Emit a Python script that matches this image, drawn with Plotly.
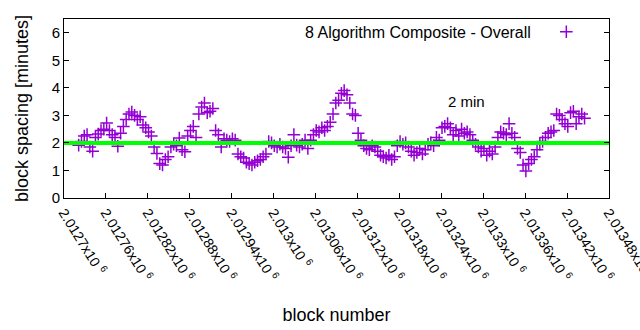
import plotly.graph_objects as go

# ---- data ----
first_block = 2012721
block_step = 4
spacing_minutes = [
    1.92, 2.05, 2.25, 2.30, 1.85, 1.70, 2.20, 2.32, 2.45, 2.50,
    2.72, 2.45, 2.30, 2.20, 1.88, 2.35, 2.60, 2.85, 3.05, 3.12,
    3.00, 2.85, 2.95, 2.65, 2.55, 2.40, 2.25, 1.85, 1.62, 1.25,
    1.20, 1.40, 1.50, 1.85, 1.95, 1.90, 2.18, 1.75, 1.68, 2.25,
    2.45, 2.60, 2.20, 3.05, 3.30, 3.45, 3.10, 3.15, 3.25, 2.45,
    2.30, 1.85, 2.15, 2.10, 2.05, 2.15, 2.10, 1.60, 1.50, 1.45,
    1.30, 1.25, 1.20, 1.30, 1.35, 1.40, 1.50, 1.60, 2.05, 2.00,
    1.90, 1.85, 1.95, 1.85, 1.80, 1.48, 1.90, 2.30, 1.92, 1.85,
    1.95, 2.10, 1.80, 2.10, 2.30, 2.45, 2.40, 2.55, 2.45, 2.60,
    2.75, 3.05, 3.45, 3.55, 3.80, 3.90, 3.75, 3.45, 3.05, 3.00,
    2.35, 2.10, 1.90, 1.80, 1.75, 1.90, 1.85, 1.70, 1.55, 1.50,
    1.45, 1.55, 1.40, 1.50, 1.90, 2.05, 1.95, 2.00, 1.85, 1.70,
    1.55, 1.65, 1.80, 1.60, 1.75, 1.95, 2.00, 1.90, 2.20, 2.10,
    2.55, 2.60, 2.70, 2.55, 2.30, 2.45, 2.25, 2.50, 2.35, 2.40,
    2.30, 2.10, 1.95, 1.85, 1.70, 1.80, 1.55, 1.70, 1.60, 1.85,
    2.20, 2.40, 2.35, 2.30, 2.70, 2.35, 2.20, 1.80, 1.65, 1.20,
    0.98, 1.25, 1.40, 1.50, 1.75, 1.95, 2.05, 2.20, 2.35, 2.40,
    2.45, 3.05, 3.00, 2.85, 2.70, 2.60, 3.10, 3.15, 2.70, 2.95,
    3.05, 2.90,
]
blocks = [first_block + block_step * i for i in range(len(spacing_minutes))]

target_x = [2012700, 2013480]
target_y = [2, 2]

x_tick_vals = [2012700, 2012760, 2012820, 2012880, 2012940, 2013000, 2013060,
               2013120, 2013180, 2013240, 2013300, 2013360, 2013420, 2013480]
x_tick_text = ["2.0127x10 <sup>6</sup>", "2.01276x10 <sup>6</sup>", "2.01282x10 <sup>6</sup>",
               "2.01288x10 <sup>6</sup>", "2.01294x10 <sup>6</sup>", "2.013x10 <sup>6</sup>",
               "2.01306x10 <sup>6</sup>", "2.01312x10 <sup>6</sup>", "2.01318x10 <sup>6</sup>",
               "2.01324x10 <sup>6</sup>", "2.0133x10 <sup>6</sup>", "2.01336x10 <sup>6</sup>",
               "2.01342x10 <sup>6</sup>", "2.01348x10 <sup>6</sup>"]
y_tick_vals = [0, 1, 2, 3, 4, 5, 6]

series_name = "8 Algorithm Composite - Overall"
label_text = "2 min"
label_x = 2013246
label_y = 3.5

FONT = "Liberation Sans, Arial, sans-serif"
FS = 15
PURPLE = "#9400D3"

fig = go.Figure()
fig.add_trace(go.Scatter(
    x=blocks, y=spacing_minutes, mode="markers", name="",
    marker=dict(symbol="cross-thin", size=9, color=PURPLE,
                line=dict(color=PURPLE, width=1.5)),
    showlegend=True,
))
fig.add_trace(go.Scatter(
    x=target_x, y=target_y, mode="lines", showlegend=False,
    line=dict(color="#00FF00", width=4),
))

fig.add_annotation(x=label_x, y=label_y, xref="x", yref="y", text=label_text,
                   showarrow=False, xanchor="left", yanchor="middle",
                   font=dict(family=FONT, size=FS, color="#000000"))
fig.add_annotation(x=0.861, y=0.927, xref="paper", yref="paper", text=series_name,
                   showarrow=False, xanchor="right", yanchor="middle",
                   font=dict(family=FONT, size=16, color="#000000"))

fig.update_layout(
    width=640, height=330,
    margin=dict(l=64, r=31, t=19, b=132),
    paper_bgcolor="white", plot_bgcolor="white",
    font=dict(family=FONT, size=FS, color="#000000"),
    legend=dict(x=0.885, y=0.927, xanchor="left", yanchor="middle",
                bgcolor="rgba(0,0,0,0)", font=dict(size=FS)),
    xaxis=dict(
        range=[2012700, 2013480], tickmode="array", tickvals=x_tick_vals,
        ticktext=x_tick_text, tickangle=58, ticks="inside", ticklen=5,
        tickcolor="black", showline=True, linecolor="black", linewidth=1,
        mirror=True, showgrid=False, zeroline=False, automargin=False,
        ticklabeloverflow="allow",
        title=dict(text="block number", standoff=24),
        tickfont=dict(size=FS - 1),
    ),
    yaxis=dict(
        range=[0, 6.5], tickmode="array", tickvals=y_tick_vals,
        ticks="inside", ticklen=5, tickcolor="black", showline=True,
        linecolor="black", linewidth=1, mirror="ticks", showgrid=False,
        zeroline=False, automargin=False,
        title=dict(text="block spacing [minutes]", standoff=18),
        tickfont=dict(size=FS),
    ),
)

fig.write_html("out.html")
